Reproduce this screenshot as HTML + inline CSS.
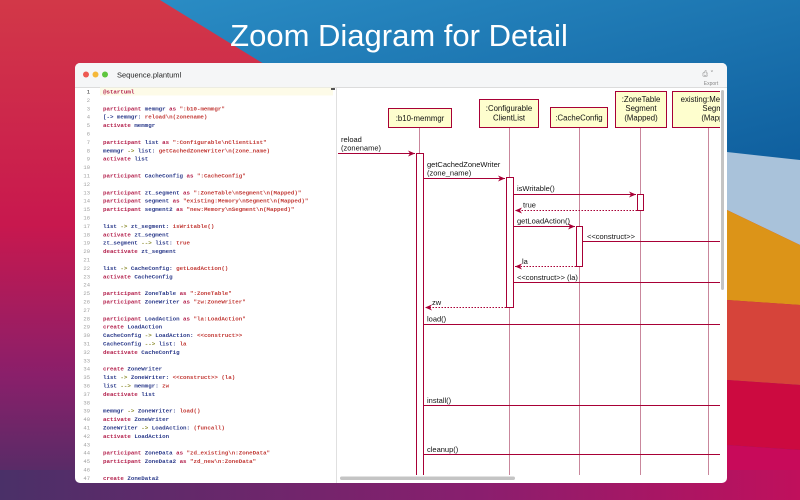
<!DOCTYPE html>
<html><head><meta charset="utf-8"><style>
html,body{margin:0;padding:0;width:800px;height:500px;overflow:hidden}
svg{display:block}
.c{font-family:"Liberation Mono",monospace;font-size:5.8px;font-weight:bold}
.k{fill:#b3204c}.i{fill:#2b3a8a}.s{fill:#c23a36}.o{fill:#8a8a2a}
.n{font-family:"Liberation Mono",monospace;font-size:5.5px;fill:#a0a0a0;text-anchor:end}
.d{font-family:"Liberation Sans",sans-serif;font-size:7.5px;fill:#111}
.h{font-family:"Liberation Sans",sans-serif;font-size:7.8px;fill:#111;text-anchor:middle}
</style></head><body>
<svg width="800" height="500" viewBox="0 0 800 500" xmlns="http://www.w3.org/2000/svg">
<defs>
<linearGradient id="bgl" x1="0" y1="0" x2="0" y2="1">
<stop offset="0" stop-color="#d23848"/><stop offset="0.45" stop-color="#c8184e"/><stop offset="0.75" stop-color="#8a1f6a"/><stop offset="1" stop-color="#4a2f66"/></linearGradient>
<linearGradient id="bgb" x1="0" y1="0" x2="1" y2="1">
<stop offset="0" stop-color="#2a8cc4"/><stop offset="1" stop-color="#0f5f9e"/></linearGradient>
<linearGradient id="bot" x1="0" y1="0" x2="1" y2="0">
<stop offset="0" stop-color="#4a3068"/><stop offset="0.6" stop-color="#8a1e6e"/><stop offset="1" stop-color="#c0105c"/></linearGradient>
<marker id="a" markerWidth="8" markerHeight="6" refX="7" refY="3" orient="auto" markerUnits="userSpaceOnUse"><path d="M0,0 L7,3 L0,6 L2,3 Z" fill="#a80036"/></marker>
<marker id="b" markerWidth="8" markerHeight="6" refX="7" refY="3" orient="auto" markerUnits="userSpaceOnUse"><path d="M0,0 L7,3 L0,6 L2,3 Z" fill="#a80036"/></marker>
</defs>
<rect width="800" height="500" fill="url(#bgl)"/>
<polygon points="160,0 800,0 800,160 290,160 290,80" fill="url(#bgb)"/>
<polygon points="727,152 800,160 800,245 727,210" fill="#a9c2da"/>
<polygon points="727,210 800,245 800,305 727,300" fill="#dc9418"/>
<polygon points="727,300 800,305 800,385 727,380" fill="#d6443a"/>
<polygon points="727,380 800,385 800,450 727,445" fill="#cc0a40"/>
<polygon points="727,445 800,450 800,470 727,470" fill="#c80a5a"/>
<rect x="0" y="470" width="800" height="30" fill="url(#bot)"/>
<text x="399" y="46" text-anchor="middle" font-family="Liberation Sans,sans-serif" font-size="31" fill="#fff">Zoom Diagram for Detail</text>

<!-- window -->
<rect x="75" y="63" width="652" height="420" rx="5" fill="#fff"/>
<path d="M80,63 H722 A5,5 0 0 1 727,68 V87 H75 V68 A5,5 0 0 1 80,63Z" fill="#f5f6f7"/>
<line x1="75" y1="87.5" x2="727" y2="87.5" stroke="#dcdcdc"/>
<circle cx="86" cy="74.5" r="3" fill="#ee5a52"/><circle cx="95.5" cy="74.5" r="3" fill="#f5b83a"/><circle cx="105" cy="74.5" r="3" fill="#5ec63e"/>
<text x="117" y="77.5" font-family="Liberation Sans,sans-serif" font-size="7.5" fill="#222">Sequence.plantuml</text>
<text x="708" y="76" font-family="DejaVu Sans,sans-serif" font-size="7" fill="#888" text-anchor="middle">⎙ ˅</text>
<text x="711" y="85" font-family="Liberation Sans,sans-serif" font-size="5" fill="#888" text-anchor="middle">Export</text>
<rect x="100" y="87.5" width="233" height="8" fill="#fdfbe8"/>
<line x1="336.5" y1="88" x2="336.5" y2="483" stroke="#e0e0e0"/>
<rect x="331" y="88" width="4" height="2" fill="#555"/>

<!-- code -->
<g class="n">
<text x="90" y="93.5" fill="#222">1</text><text x="90" y="101.9">2</text><text x="90" y="110.3">3</text><text x="90" y="118.7">4</text><text x="90" y="127.1">5</text><text x="90" y="135.5">6</text><text x="90" y="143.9">7</text><text x="90" y="152.3">8</text><text x="90" y="160.7">9</text><text x="90" y="169.1">10</text><text x="90" y="177.5">11</text><text x="90" y="185.9">12</text><text x="90" y="194.3">13</text><text x="90" y="202.7">14</text><text x="90" y="211.1">15</text><text x="90" y="219.5">16</text><text x="90" y="227.9">17</text><text x="90" y="236.3">18</text><text x="90" y="244.7">19</text><text x="90" y="253.1">20</text><text x="90" y="261.5">21</text><text x="90" y="269.9">22</text><text x="90" y="278.3">23</text><text x="90" y="286.7">24</text><text x="90" y="295.1">25</text><text x="90" y="303.5">26</text><text x="90" y="311.9">27</text><text x="90" y="320.3">28</text><text x="90" y="328.7">29</text><text x="90" y="337.1">30</text><text x="90" y="345.5">31</text><text x="90" y="353.9">32</text><text x="90" y="362.3">33</text><text x="90" y="370.7">34</text><text x="90" y="379.1">35</text><text x="90" y="387.5">36</text><text x="90" y="395.9">37</text><text x="90" y="404.3">38</text><text x="90" y="412.7">39</text><text x="90" y="421.1">40</text><text x="90" y="429.5">41</text><text x="90" y="437.9">42</text><text x="90" y="446.3">43</text><text x="90" y="454.7">44</text><text x="90" y="463.1">45</text><text x="90" y="471.5">46</text><text x="90" y="479.9">47</text>
</g>
<g class="c">
<text x="103" y="93.5" class="k">@startuml</text>
<text x="103" y="110.3"><tspan class="k">participant</tspan> <tspan class="i">memmgr</tspan> <tspan class="k">as</tspan> <tspan class="s">":b10-memmgr"</tspan></text>
<text x="103" y="118.7"><tspan class="i">[-&gt; memmgr:</tspan> <tspan class="s">reload\n(zonename)</tspan></text>
<text x="103" y="127.1"><tspan class="k">activate</tspan> <tspan class="i">memmgr</tspan></text>
<text x="103" y="143.9"><tspan class="k">participant</tspan> <tspan class="i">list</tspan> <tspan class="k">as</tspan> <tspan class="s">":Configurable\nClientList"</tspan></text>
<text x="103" y="152.3"><tspan class="i">memmgr</tspan> <tspan class="o">-&gt;</tspan> <tspan class="i">list:</tspan> <tspan class="s">getCachedZoneWriter\n(zone_name)</tspan></text>
<text x="103" y="160.7"><tspan class="k">activate</tspan> <tspan class="i">list</tspan></text>
<text x="103" y="177.5"><tspan class="k">participant</tspan> <tspan class="i">CacheConfig</tspan> <tspan class="k">as</tspan> <tspan class="s">":CacheConfig"</tspan></text>
<text x="103" y="194.3"><tspan class="k">participant</tspan> <tspan class="i">zt_segment</tspan> <tspan class="k">as</tspan> <tspan class="s">":ZoneTable\nSegment\n(Mapped)"</tspan></text>
<text x="103" y="202.7"><tspan class="k">participant</tspan> <tspan class="i">segment</tspan> <tspan class="k">as</tspan> <tspan class="s">"existing:Memory\nSegment\n(Mapped)"</tspan></text>
<text x="103" y="211.1"><tspan class="k">participant</tspan> <tspan class="i">segment2</tspan> <tspan class="k">as</tspan> <tspan class="s">"new:Memory\nSegment\n(Mapped)"</tspan></text>
<text x="103" y="227.9"><tspan class="i">list</tspan> <tspan class="o">-&gt;</tspan> <tspan class="i">zt_segment:</tspan> <tspan class="s">isWritable()</tspan></text>
<text x="103" y="236.3"><tspan class="k">activate</tspan> <tspan class="i">zt_segment</tspan></text>
<text x="103" y="244.7"><tspan class="i">zt_segment</tspan> <tspan class="o">--&gt;</tspan> <tspan class="i">list:</tspan> <tspan class="s">true</tspan></text>
<text x="103" y="253.1"><tspan class="k">deactivate</tspan> <tspan class="i">zt_segment</tspan></text>
<text x="103" y="269.9"><tspan class="i">list</tspan> <tspan class="o">-&gt;</tspan> <tspan class="i">CacheConfig:</tspan> <tspan class="s">getLoadAction()</tspan></text>
<text x="103" y="278.3"><tspan class="k">activate</tspan> <tspan class="i">CacheConfig</tspan></text>
<text x="103" y="295.1"><tspan class="k">participant</tspan> <tspan class="i">ZoneTable</tspan> <tspan class="k">as</tspan> <tspan class="s">":ZoneTable"</tspan></text>
<text x="103" y="303.5"><tspan class="k">participant</tspan> <tspan class="i">ZoneWriter</tspan> <tspan class="k">as</tspan> <tspan class="s">"zw:ZoneWriter"</tspan></text>
<text x="103" y="320.3"><tspan class="k">participant</tspan> <tspan class="i">LoadAction</tspan> <tspan class="k">as</tspan> <tspan class="s">"la:LoadAction"</tspan></text>
<text x="103" y="328.7"><tspan class="k">create</tspan> <tspan class="i">LoadAction</tspan></text>
<text x="103" y="337.1"><tspan class="i">CacheConfig</tspan> <tspan class="o">-&gt;</tspan> <tspan class="i">LoadAction:</tspan> <tspan class="s">&lt;&lt;construct&gt;&gt;</tspan></text>
<text x="103" y="345.5"><tspan class="i">CacheConfig</tspan> <tspan class="o">--&gt;</tspan> <tspan class="i">list:</tspan> <tspan class="s">la</tspan></text>
<text x="103" y="353.9"><tspan class="k">deactivate</tspan> <tspan class="i">CacheConfig</tspan></text>
<text x="103" y="370.7"><tspan class="k">create</tspan> <tspan class="i">ZoneWriter</tspan></text>
<text x="103" y="379.1"><tspan class="i">list</tspan> <tspan class="o">-&gt;</tspan> <tspan class="i">ZoneWriter:</tspan> <tspan class="s">&lt;&lt;construct&gt;&gt; (la)</tspan></text>
<text x="103" y="387.5"><tspan class="i">list</tspan> <tspan class="o">--&gt;</tspan> <tspan class="i">memmgr:</tspan> <tspan class="s">zw</tspan></text>
<text x="103" y="395.9"><tspan class="k">deactivate</tspan> <tspan class="i">list</tspan></text>
<text x="103" y="412.7"><tspan class="i">memmgr</tspan> <tspan class="o">-&gt;</tspan> <tspan class="i">ZoneWriter:</tspan> <tspan class="s">load()</tspan></text>
<text x="103" y="421.1"><tspan class="k">activate</tspan> <tspan class="i">ZoneWriter</tspan></text>
<text x="103" y="429.5"><tspan class="i">ZoneWriter</tspan> <tspan class="o">-&gt;</tspan> <tspan class="i">LoadAction:</tspan> <tspan class="s">(funcall)</tspan></text>
<text x="103" y="437.9"><tspan class="k">activate</tspan> <tspan class="i">LoadAction</tspan></text>
<text x="103" y="454.7"><tspan class="k">participant</tspan> <tspan class="i">ZoneData</tspan> <tspan class="k">as</tspan> <tspan class="s">"zd_existing\n:ZoneData"</tspan></text>
<text x="103" y="463.1"><tspan class="k">participant</tspan> <tspan class="i">ZoneData2</tspan> <tspan class="k">as</tspan> <tspan class="s">"zd_new\n:ZoneData"</tspan></text>
<text x="103" y="479.9"><tspan class="k">create</tspan> <tspan class="i">ZoneData2</tspan></text>
</g>

<!-- diagram -->
<svg x="337" y="88" width="383" height="387" viewBox="337 88 383 387">
<g stroke="#c9879c" stroke-width="1" fill="none">
<line x1="419.5" y1="127" x2="419.5" y2="475"/>
<line x1="509.5" y1="127" x2="509.5" y2="475"/>
<line x1="579.5" y1="127" x2="579.5" y2="475"/>
<line x1="640.5" y1="127" x2="640.5" y2="475"/>
<line x1="708.5" y1="127" x2="708.5" y2="475"/>
</g>
<g fill="#fefece" stroke="#a80036" stroke-width="1">
<rect x="388.5" y="108.5" width="63" height="19"/>
<rect x="479.5" y="99.5" width="59" height="28"/>
<rect x="550.5" y="107.5" width="57" height="20"/>
<rect x="615.5" y="91.5" width="51" height="36"/>
<rect x="672.5" y="91.5" width="60" height="36"/>
</g>
<text class="h" x="420" y="121">:b10-memmgr</text>
<text class="h" x="509" y="111">:Configurable</text><text class="h" x="509" y="120.5">ClientList</text>
<text class="h" x="579" y="120.5">:CacheConfig</text>
<text class="h" x="641" y="102">:ZoneTable</text><text class="h" x="641" y="111">Segment</text><text class="h" x="641" y="120.5">(Mapped)</text>
<text class="h" x="709" y="102">existing:Memory</text><text class="h" x="718" y="111">Segment</text><text class="h" x="718" y="120.5">(Mapped)</text>
<g fill="#fff" stroke="#a80036" stroke-width="1">
<rect x="416.5" y="153.5" width="7" height="330"/>
<rect x="506.5" y="177.5" width="7" height="130"/>
<rect x="637.5" y="194.5" width="6" height="16"/>
<rect x="576.5" y="226.5" width="6" height="40"/>
</g>
<g stroke="#a80036" stroke-width="1" fill="none">
<line x1="338" y1="153.5" x2="415" y2="153.5" marker-end="url(#a)"/>
<line x1="424" y1="178.5" x2="505" y2="178.5" marker-end="url(#a)"/>
<line x1="514" y1="194.5" x2="636" y2="194.5" marker-end="url(#a)"/>
<line x1="637" y1="210.5" x2="515" y2="210.5" stroke-dasharray="1.5,1.5" marker-end="url(#b)"/>
<line x1="514" y1="226.5" x2="575" y2="226.5" marker-end="url(#a)"/>
<line x1="583" y1="241.5" x2="720" y2="241.5"/>
<line x1="576" y1="266.5" x2="515" y2="266.5" stroke-dasharray="1.5,1.5" marker-end="url(#b)"/>
<line x1="514" y1="282.5" x2="720" y2="282.5"/>
<line x1="506" y1="307.5" x2="425" y2="307.5" stroke-dasharray="1.5,1.5" marker-end="url(#b)"/>
<line x1="424" y1="324.5" x2="720" y2="324.5"/>
<line x1="424" y1="405.5" x2="720" y2="405.5"/>
<line x1="424" y1="454.5" x2="720" y2="454.5"/>
</g>
<text class="d" x="341" y="142">reload</text><text class="d" x="341" y="150.5">(zonename)</text>
<text class="d" x="427" y="167">getCachedZoneWriter</text><text class="d" x="427" y="175.5">(zone_name)</text>
<text class="d" x="517" y="191">isWritable()</text>
<text class="d" x="523" y="207.5">true</text>
<text class="d" x="517" y="223.5">getLoadAction()</text>
<text class="d" x="587" y="239">&lt;&lt;construct&gt;&gt;</text>
<text class="d" x="522" y="264">la</text>
<text class="d" x="517" y="280">&lt;&lt;construct&gt;&gt; (la)</text>
<text class="d" x="432" y="305">zw</text>
<text class="d" x="427" y="321.5">load()</text>
<text class="d" x="427" y="403">install()</text>
<text class="d" x="427" y="452">cleanup()</text>
</svg>
<rect x="721" y="90" width="3" height="200" rx="1.5" fill="#c4c4c4"/>
<rect x="340" y="476.5" width="175" height="3.5" rx="1.7" fill="#c4c4c4"/>
</svg>
</body></html>
